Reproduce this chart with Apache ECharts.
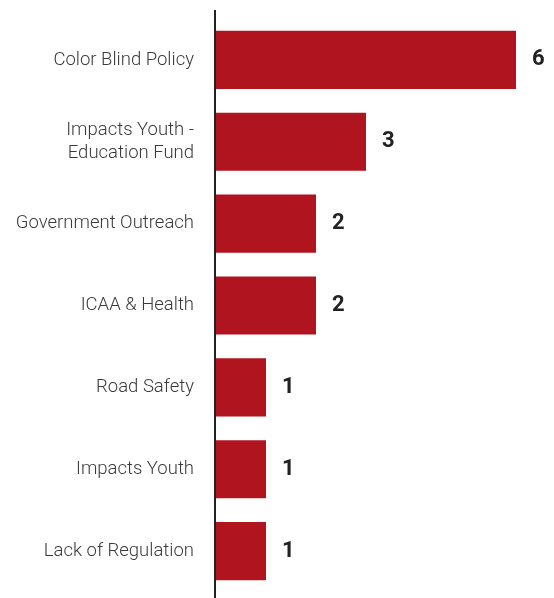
<!DOCTYPE html>
<html>
<head>
<meta charset="utf-8">
<script src="https://cdn.jsdelivr.net/npm/echarts@6/dist/echarts.min.js"></script>
<style>
  html, body { margin: 0; padding: 0; background: #fff; }
  #chart { width: 554px; height: 598px; }
</style>
</head>
<body>
<div id="chart"></div>
<script>
  // categories top to bottom
  var categories = ['Color Blind Policy', 'Impacts Youth -\nEducation Fund', 'Government Outreach',
    'ICAA & Health', 'Road Safety', 'Impacts Youth', 'Lack of Regulation']
  var counts = [6, 3, 2, 2, 1, 1, 1]

  var chart = echarts.init(document.getElementById('chart'))
  chart.setOption({
    animation: false,
    grid: {
      top: 19,
      bottom: 6,
      left: 216,
      right: 38
    },
    xAxis: {
      type: 'value',
      min: 0,
      max: 6,
      show: false
    },
    yAxis: {
      type: 'category',
      inverse: true,
      data: categories,
      axisLine: {show: false},
      axisTick: {show: false},
      axisLabel: {
        margin: 22,
        fontFamily: 'Roboto',
        fontWeight: 300,
        fontSize: 18.5,
        lineHeight: 23,
        color: '#3a3a3a'
      }
    },
    graphic: [{
      type: 'line',
      shape: {x1: 215, y1: 10, x2: 215, y2: 598},
      style: {stroke: '#222', lineWidth: 2}
    }],
    series: [{
      type: 'bar',
      data: counts,
      barCategoryGap: '29%',
      itemStyle: {color: '#B0141F'},
      label: {
        show: true,
        position: 'right',
        distance: 16,
        fontFamily: 'Roboto',
        fontWeight: 'bold',
        fontSize: 22,
        color: '#222'
      }
    }]
  })
</script>
</body>
</html>
